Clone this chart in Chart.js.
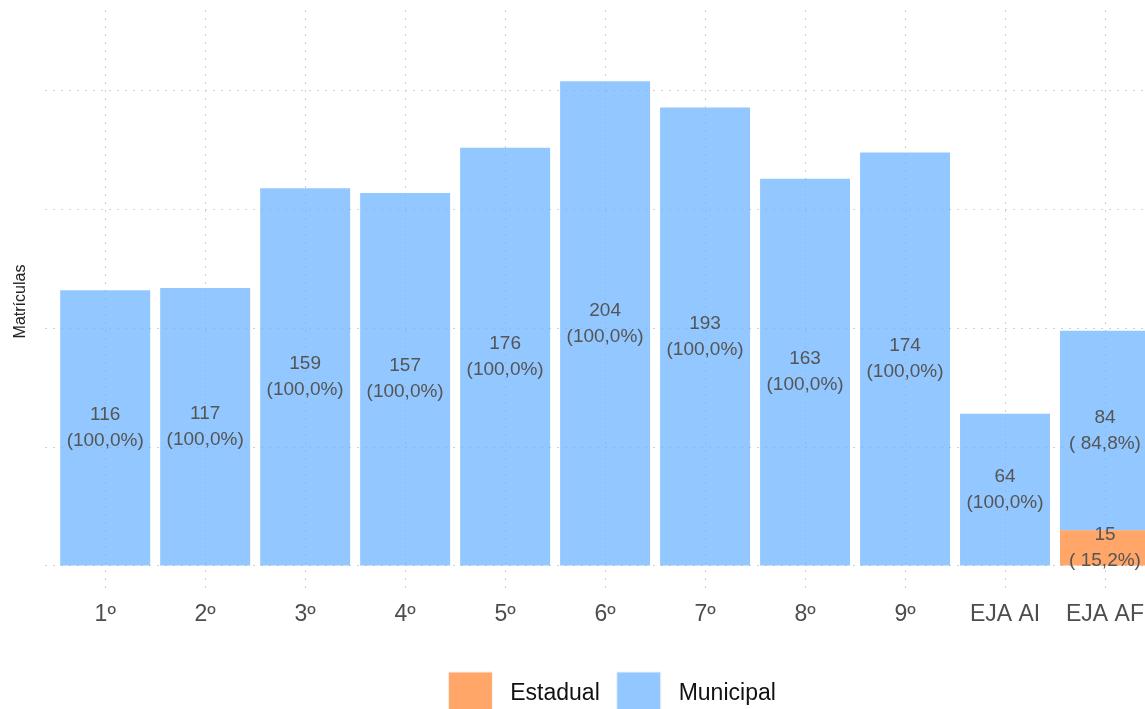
<!DOCTYPE html>
<html>
<head>
<meta charset="utf-8">
<script src="https://cdn.jsdelivr.net/npm/chart.js@4/dist/chart.umd.min.js"></script>
<style>
  html, body { margin: 0; padding: 0; background: #fff; }
  #wrap { width: 1145px; height: 709px; overflow: hidden; position: relative; }
  #box { width: 1200px; height: 726px; position: absolute; left: 0; top: 0; }
</style>
</head>
<body>
<div id="wrap"><div id="box"><canvas id="chart"></canvas></div></div>
<script>
// Matrículas por etapa
const categories = ['1º', '2º', '3º', '4º', '5º', '6º', '7º', '8º', '9º', 'EJA AI', 'EJA AF'];
const estadual = [0, 0, 0, 0, 0, 0, 0, 0, 0, 0, 15];
const municipal = [116, 117, 159, 157, 176, 204, 193, 163, 174, 64, 84];
const yTicks = [0, 50, 100, 150, 200];

const totals = categories.map((c, i) => estadual[i] + municipal[i]);
const FONT = '"Liberation Sans", Arial, sans-serif';

function fmtPct(v, total) {
  let s = (v / total * 100).toFixed(1).replace('.', ',');
  while (s.length < 5) s = ' ' + s;
  return '(' + s + '%)';
}

// labels in the middle of each segment
const segLabels = {
  id: 'segLabels',
  afterDatasetsDraw(chart) {
    const ctx = chart.ctx;
    ctx.save();
    ctx.font = '19px ' + FONT;
    ctx.fillStyle = '#555555';
    ctx.textAlign = 'center';
    ctx.textBaseline = 'middle';
    chart.data.datasets.forEach((ds, di) => {
      const meta = chart.getDatasetMeta(di);
      meta.data.forEach((el, i) => {
        const v = ds.data[i].y;
        if (!v) return;
        const mid = (el.y + el.base) / 2;
        ctx.fillText(String(v), el.x, mid - 13);
        ctx.fillText(fmtPct(v, totals[i]), el.x, mid + 13);
      });
    });
    ctx.restore();
  }
};

// nudge the legend a bit to the right, like the original
const legendShift = {
  id: 'legendShift',
  afterLayout(chart) {
    if (chart.legend) {
      chart.legend.left += 7;
      chart.legend.right += 7;
    }
  }
};

const gridColor = '#cfcfcf';

new Chart(document.getElementById('chart').getContext('2d'), {
  type: 'bar',
  data: {
    datasets: [
      {
        label: 'Estadual',
        data: estadual.map((v, i) => ({ x: i, y: v })),
        backgroundColor: 'rgba(255, 128, 40, 0.7)',
        borderWidth: 0,
        barPercentage: 0.9,
        categoryPercentage: 1.0
      },
      {
        label: 'Municipal',
        data: municipal.map((v, i) => ({ x: i, y: v })),
        backgroundColor: 'rgba(100, 175, 255, 0.7)',
        borderWidth: 0,
        barPercentage: 0.9,
        categoryPercentage: 1.0
      }
    ]
  },
  options: {
    responsive: true,
    maintainAspectRatio: false,
    animation: false,
    layout: { padding: { top: 10, left: 4, right: 35, bottom: 0 } },
    plugins: {
      legend: {
        position: 'bottom',
        fullSize: false,
        labels: {
          boxWidth: 44,
          boxHeight: 44,
          padding: 17,
          color: '#111',
          font: { size: 23, family: FONT },
          generateLabels(chart) {
            return chart.data.datasets.map((ds, i) => ({
              text: ' ' + ds.label,
              fillStyle: ds.backgroundColor,
              strokeStyle: '#f2f2f2',
              lineWidth: 1,
              datasetIndex: i,
              fontColor: '#111'
            }));
          }
        }
      },
      tooltip: { enabled: false }
    },
    scales: {
      x: {
        type: 'linear',
        stacked: true,
        offset: false,
        min: -0.6,
        max: 10.6,
        afterBuildTicks: scale => { scale.ticks = categories.map((c, i) => ({ value: i })); },
        afterFit: scale => { scale.height += 18.4; },
        ticks: {
          callback: v => categories[v],
          padding: 8,
          color: '#4d4d4d',
          font: { size: 23, family: FONT },
          autoSkip: false,
          maxRotation: 0
        },
        grid: { offset: false, color: gridColor, drawTicks: false, lineWidth: 1 },
        border: { display: false, dash: [2, 6] }
      },
      y: {
        stacked: true,
        min: -11.4,
        max: 234,
        afterBuildTicks: scale => { scale.ticks = yTicks.map(v => ({ value: v })); },
        ticks: { display: false },
        grid: { color: gridColor, drawTicks: false, lineWidth: 1 },
        border: { display: false, dash: [2, 6] },
        title: {
          display: true,
          text: 'Matrículas',
          color: '#222',
          font: { size: 16, family: FONT },
          padding: { top: 7, bottom: 15 }
        }
      }
    }
  },
  plugins: [segLabels, legendShift]
});
</script>
</body>
</html>
